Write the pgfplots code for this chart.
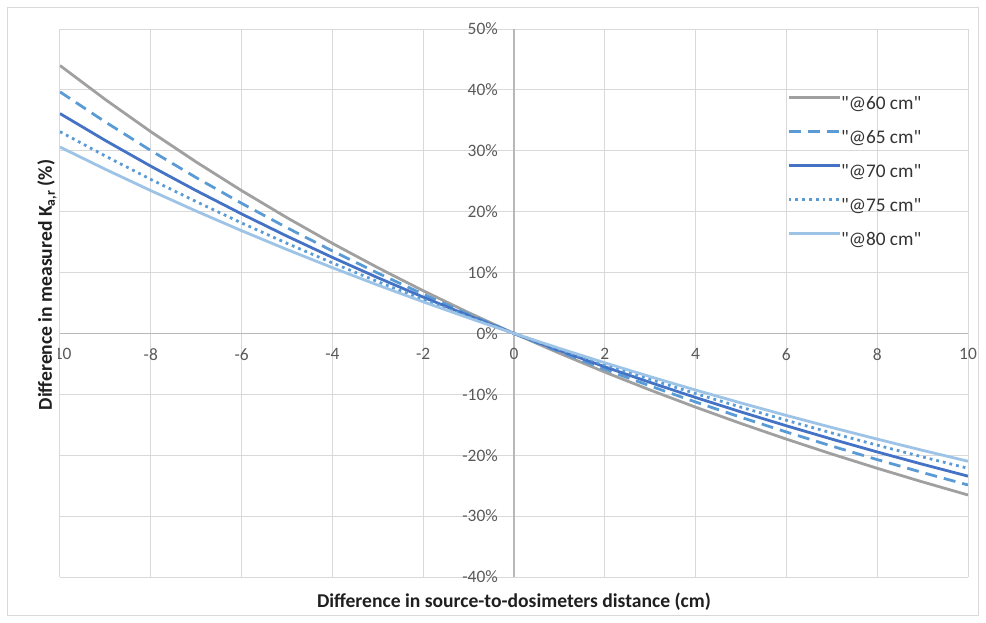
\documentclass[border=0pt]{standalone}
\usepackage{fontspec}
\setmainfont{Carlito}[Ligatures=TeXOff]
\usepackage{pgfplots}
\pgfplotsset{compat=1.18}
\definecolor{gridc}{HTML}{D9D9D9}
\definecolor{zeroc}{HTML}{B8B8B8}
\definecolor{tickc}{HTML}{595959}
\definecolor{cSixty}{HTML}{A0A0A0}
\definecolor{cSixtyFive}{HTML}{5B9BD5}
\definecolor{cSeventy}{HTML}{4472C4}
\definecolor{cSeventyFive}{HTML}{5B9BD5}
\definecolor{cEighty}{HTML}{9DC3E6}
\begin{document}
\begin{tikzpicture}
\useasboundingbox (-60bp,-46bp) rectangle (926bp,577bp);
\draw[color=gridc, line width=1bp] (-52bp,-38bp) rectangle (918bp,569bp);
\begin{axis}[
  at={(0,0)}, anchor=south west,
  scale only axis, width=908bp, height=548bp,
  xmin=-10, xmax=10, ymin=-40, ymax=50,
  axis lines=middle,
  axis line style={-, color=zeroc, line width=1.3bp},
  hide obscured x ticks=false, hide obscured y ticks=false,
  major tick length=0pt,
  grid=major,
  major grid style={color=gridc, line width=1bp},
  xtick={-10,-8,-6,-4,-2,0,2,4,6,8,10},
  xticklabels={-10,-8,-6,-4,-2,0,2,4,6,8,10},
  ytick={-40,-30,-20,-10,0,10,20,30,40,50},
  yticklabels={-40\%,-30\%,-20\%,-10\%,0\%,10\%,20\%,30\%,40\%,50\%},
  xticklabel style={font=\fontsize{17.4bp}{20bp}\selectfont, text=tickc, anchor=north, inner sep=0pt, yshift=-15bp},
  yticklabel style={font=\fontsize{17.4bp}{20bp}\selectfont, text=tickc, anchor=east, inner sep=0pt, xshift=-16bp},
  xlabel={Difference in source-to-dosimeters distance (cm)},
  ylabel={Difference in measured K\textsubscript{a,r} (\%)},
  xlabel style={at={(axis description cs:0.5,-0.0456)}, anchor=center, font=\fontsize{19.6bp}{22bp}\selectfont\bfseries, text=black!88},
  ylabel style={at={(axis description cs:-0.0143,0.533)}, anchor=center, rotate=90, font=\fontsize{19.6bp}{22bp}\selectfont\bfseries, text=black!88, fill=white, inner sep=1bp},
  legend image code/.code={\draw[#1] (0bp,6.5bp) -- (51bp,6.5bp);},
  legend style={at={(axis description cs:0.8007,0.8796)}, anchor=north west, draw=none, fill=none, inner sep=0pt,
    font=\fontsize{19.3bp}{22bp}\selectfont, text=black!80,
    nodes={inner sep=0pt, text height=14bp, text depth=4bp},
    row sep=16bp, /tikz/every even column/.style={column sep=5bp}},
  legend cell align=left,
  every axis plot/.append style={line width=2.8bp, line join=round},
]
\addplot[color=cSixty] coordinates {
(-10,44.000) (-9,38.408) (-8,33.136) (-7,28.160) (-6,23.457) (-5,19.008) (-4,14.796) (-3,10.803) (-2,7.015) (-1,3.419) (0,0)
(1,-3.252) (2,-6.348) (3,-9.297) (4,-12.109) (5,-14.793) (6,-17.355) (7,-19.804) (8,-22.145) (9,-24.386) (10,-26.531)};
\addlegendentry{"@60 cm"}
\addplot[color=cSixtyFive, dash pattern=on 12bp off 7bp] coordinates {
(-10,39.669) (-9,34.726) (-8,30.040) (-7,25.594) (-6,21.373) (-5,17.361) (-4,13.545) (-3,9.912) (-2,6.450) (-1,3.149) (0,0)
(1,-3.007) (2,-5.881) (3,-8.629) (4,-11.258) (5,-13.776) (6,-16.187) (7,-18.499) (8,-20.717) (9,-22.845) (10,-24.889)};
\addlegendentry{"@65 cm"}
\addplot[color=cSeventy] coordinates {
(-10,36.111) (-9,31.685) (-8,27.471) (-7,23.457) (-6,19.629) (-5,15.976) (-4,12.489) (-3,9.156) (-2,5.969) (-1,2.920) (0,0)
(1,-2.797) (2,-5.478) (3,-8.050) (4,-10.519) (5,-12.889) (6,-15.166) (7,-17.355) (8,-19.461) (9,-21.487) (10,-23.438)};
\addlegendentry{"@70 cm"}
\addplot[color=cSeventyFive, dash pattern=on 2.8bp off 4bp] coordinates {
(-10,33.136) (-9,29.132) (-8,25.306) (-7,21.648) (-6,18.147) (-5,14.796) (-4,11.585) (-3,8.507) (-2,5.554) (-1,2.721) (0,0)
(1,-2.614) (2,-5.127) (3,-7.544) (4,-9.870) (5,-12.109) (6,-14.266) (7,-16.344) (8,-18.348) (9,-20.281) (10,-22.145)};
\addlegendentry{"@75 cm"}
\addplot[color=cEighty] coordinates {
(-10,30.612) (-9,26.959) (-8,23.457) (-7,20.098) (-6,16.874) (-5,13.778) (-4,10.803) (-3,7.944) (-2,5.194) (-1,2.548) (0,0)
(1,-2.454) (2,-4.819) (3,-7.098) (4,-9.297) (5,-11.419) (6,-13.467) (7,-15.445) (8,-17.355) (9,-19.202) (10,-20.988)};
\addlegendentry{"@80 cm"}
\end{axis}
\end{tikzpicture}
\end{document}
